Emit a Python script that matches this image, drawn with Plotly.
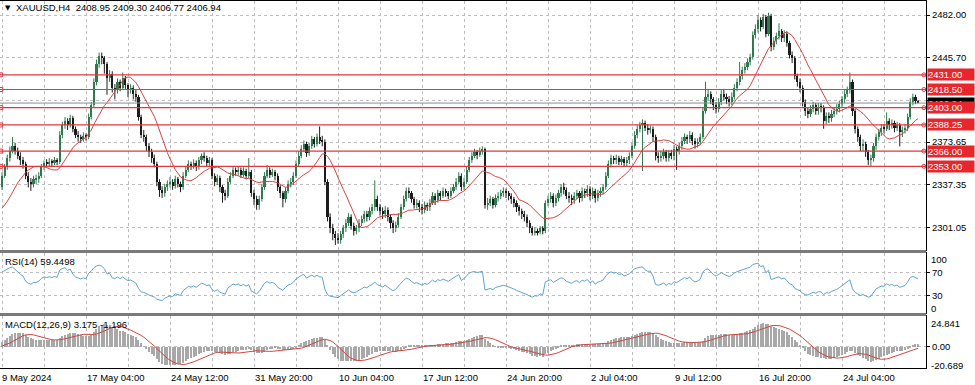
import pandas as pd
import plotly.graph_objects as go

# ---------------- data (H4 bars) ----------------
warmup_closes = [2335, 2332, 2340, 2345, 2338, 2337, 2340, 2345, 2342, 2338, 2336, 2334,
                 2330, 2325, 2320, 2310, 2300, 2286, 2288, 2290, 2295, 2300, 2310, 2320,
                 2325, 2318, 2310, 2305, 2302, 2304, 2305, 2300, 2298, 2310, 2300, 2302,
                 2305, 2312, 2318, 2320, 2322, 2324, 2322, 2318, 2315, 2318, 2314, 2315,
                 2314, 2310, 2308, 2312, 2315, 2310, 2308, 2312, 2318, 2325, 2335]

opens = [2335, 2345, 2352, 2360, 2366, 2370, 2366, 2362, 2358, 2355,
         2345, 2340, 2338, 2342, 2342, 2345, 2352, 2356, 2355, 2357,
         2356, 2358, 2357, 2380, 2388, 2392, 2388, 2394, 2385, 2380,
         2378, 2376, 2379, 2378, 2395, 2405, 2425, 2440, 2447, 2445,
         2440, 2428, 2432, 2420, 2418, 2425, 2420, 2428, 2422, 2418,
         2420, 2415, 2412, 2395, 2380, 2378, 2370, 2365, 2360, 2355,
         2340, 2333, 2330, 2335, 2338, 2340, 2336, 2342, 2338, 2335,
         2345, 2350, 2355, 2353, 2356, 2352, 2358, 2362, 2360, 2356,
         2358, 2345, 2340, 2343, 2335, 2330, 2328, 2340, 2345, 2350,
         2348, 2350, 2346, 2349, 2345, 2348, 2330, 2325, 2320, 2325,
         2335, 2345, 2350, 2346, 2348, 2345, 2335, 2330, 2325, 2332,
         2338, 2340, 2345, 2355, 2362, 2368, 2372, 2364, 2370, 2376,
         2372, 2378, 2375, 2374, 2340, 2310, 2300, 2295, 2292, 2290,
         2295, 2300, 2305, 2310, 2302, 2298, 2300, 2305, 2308, 2312,
         2310, 2315, 2318, 2325, 2318, 2315, 2312, 2316, 2310, 2305,
         2300, 2303, 2310, 2318, 2325, 2332, 2330, 2325, 2320, 2322,
         2318, 2316, 2320, 2318, 2322, 2328, 2324, 2330, 2328, 2332,
         2330, 2328, 2332, 2335, 2340, 2345, 2335, 2340, 2350, 2358,
         2362, 2365, 2363, 2366, 2368, 2320, 2322, 2325, 2320, 2326,
         2328, 2330, 2332, 2330, 2328, 2325, 2322, 2318, 2315, 2312,
         2310, 2305, 2300, 2296, 2298, 2297, 2300, 2298, 2322, 2325,
         2328, 2322, 2326, 2330, 2335, 2333, 2328, 2326, 2324, 2328,
         2330, 2326, 2332, 2330, 2334, 2328, 2332, 2326, 2330, 2332,
         2335, 2345, 2355, 2360, 2358, 2360, 2357, 2359, 2356, 2358,
         2362, 2370, 2380, 2385, 2388, 2390, 2386, 2384, 2385, 2378,
         2362, 2360, 2362, 2365, 2360, 2364, 2362, 2368, 2366, 2370,
         2375, 2378, 2376, 2380, 2375, 2372, 2374, 2378, 2400, 2412,
         2415, 2410, 2405, 2402, 2408, 2415, 2412, 2410, 2408, 2412,
         2420, 2425, 2430, 2435, 2438, 2442, 2446, 2465, 2470, 2478,
         2472, 2480, 2466, 2481, 2455, 2460, 2464, 2468, 2462, 2466,
         2458, 2448, 2445, 2430, 2425, 2420, 2408, 2400, 2398, 2402,
         2405, 2400, 2404, 2403, 2392, 2396, 2394, 2398, 2400, 2402,
         2406, 2410, 2415, 2418, 2425, 2400, 2385, 2378, 2370, 2372,
         2365, 2358, 2360, 2370, 2378, 2382, 2386, 2385, 2392, 2388,
         2390, 2386, 2388, 2382, 2384, 2386, 2395, 2408, 2412, 2408.95]

highs = [2348, 2355, 2363, 2370, 2378, 2373, 2369, 2365, 2361, 2357,
         2348, 2343, 2345, 2346, 2348, 2355, 2358, 2359, 2360, 2359,
         2361, 2360, 2383, 2391, 2395, 2394, 2397, 2396, 2387, 2383,
         2380, 2382, 2381, 2398, 2408, 2428, 2444, 2450, 2450, 2447,
         2442, 2435, 2434, 2423, 2428, 2427, 2433, 2430, 2424, 2423,
         2422, 2418, 2414, 2397, 2384, 2380, 2373, 2368, 2363, 2357,
         2342, 2336, 2338, 2341, 2344, 2342, 2345, 2344, 2340, 2348,
         2353, 2358, 2357, 2359, 2358, 2361, 2364, 2365, 2362, 2361,
         2360, 2347, 2346, 2345, 2337, 2333, 2343, 2348, 2353, 2352,
         2353, 2352, 2352, 2351, 2360, 2350, 2333, 2328, 2328, 2338,
         2348, 2354, 2352, 2351, 2350, 2347, 2337, 2332, 2335, 2341,
         2343, 2348, 2358, 2366, 2371, 2375, 2374, 2373, 2379, 2378,
         2381, 2387, 2379, 2376, 2342, 2313, 2304, 2298, 2296, 2298,
         2303, 2308, 2313, 2312, 2305, 2303, 2308, 2311, 2315, 2315,
         2318, 2321, 2341, 2328, 2321, 2318, 2319, 2318, 2312, 2307,
         2306, 2313, 2321, 2328, 2335, 2335, 2332, 2327, 2325, 2324,
         2321, 2323, 2322, 2325, 2331, 2330, 2333, 2332, 2335, 2334,
         2332, 2335, 2338, 2343, 2348, 2347, 2343, 2353, 2361, 2365,
         2368, 2367, 2369, 2370, 2369, 2326, 2328, 2327, 2329, 2331,
         2333, 2335, 2334, 2332, 2330, 2327, 2324, 2320, 2317, 2315,
         2312, 2307, 2302, 2301, 2300, 2302, 2302, 2324, 2328, 2331,
         2330, 2329, 2333, 2338, 2339, 2335, 2331, 2329, 2331, 2333,
         2332, 2335, 2334, 2337, 2336, 2335, 2334, 2333, 2335, 2338,
         2348, 2358, 2363, 2362, 2363, 2362, 2362, 2361, 2361, 2365,
         2373, 2383, 2388, 2391, 2393, 2392, 2389, 2388, 2387, 2380,
         2365, 2366, 2368, 2367, 2367, 2367, 2371, 2370, 2373, 2378,
         2381, 2380, 2383, 2382, 2377, 2377, 2381, 2403, 2425, 2419,
         2417, 2412, 2408, 2411, 2418, 2419, 2415, 2413, 2416, 2423,
         2428, 2442, 2438, 2441, 2445, 2449, 2468, 2474, 2482, 2480,
         2483, 2482, 2484, 2483, 2463, 2467, 2475, 2470, 2469, 2468,
         2460, 2451, 2447, 2432, 2428, 2422, 2410, 2403, 2405, 2408,
         2407, 2407, 2407, 2405, 2399, 2399, 2401, 2403, 2406, 2409,
         2413, 2418, 2421, 2433, 2427, 2402, 2387, 2380, 2376, 2374,
         2367, 2363, 2373, 2381, 2385, 2389, 2389, 2399, 2394, 2393,
         2392, 2391, 2390, 2387, 2389, 2398, 2411, 2415, 2414, 2409.30]

lows = [2333, 2343, 2350, 2357, 2364, 2363, 2359, 2354, 2351, 2342,
        2335, 2332, 2335, 2338, 2339, 2343, 2350, 2352, 2353, 2353,
        2354, 2354, 2355, 2377, 2385, 2384, 2386, 2382, 2377, 2374,
        2373, 2374, 2375, 2376, 2393, 2403, 2422, 2437, 2440, 2432,
        2414, 2425, 2416, 2410, 2415, 2417, 2418, 2419, 2412, 2415,
        2410, 2408, 2392, 2377, 2374, 2366, 2361, 2356, 2352, 2336,
        2327, 2326, 2327, 2332, 2335, 2333, 2334, 2335, 2331, 2333,
        2343, 2348, 2350, 2351, 2349, 2350, 2355, 2357, 2353, 2353,
        2342, 2336, 2337, 2331, 2322, 2324, 2326, 2338, 2343, 2345,
        2345, 2343, 2344, 2342, 2343, 2327, 2320, 2316, 2316, 2323,
        2333, 2343, 2343, 2344, 2341, 2332, 2326, 2318, 2322, 2330,
        2335, 2337, 2343, 2353, 2360, 2365, 2361, 2362, 2368, 2369,
        2370, 2372, 2370, 2337, 2306, 2296, 2290, 2286, 2287, 2287,
        2292, 2297, 2302, 2299, 2294, 2295, 2297, 2302, 2305, 2306,
        2307, 2312, 2315, 2315, 2311, 2308, 2309, 2306, 2300, 2296,
        2297, 2301, 2308, 2316, 2323, 2326, 2322, 2317, 2317, 2314,
        2312, 2313, 2315, 2315, 2320, 2320, 2322, 2324, 2326, 2327,
        2325, 2326, 2330, 2333, 2338, 2332, 2333, 2338, 2348, 2356,
        2360, 2359, 2361, 2363, 2317, 2316, 2319, 2317, 2318, 2323,
        2325, 2327, 2326, 2324, 2321, 2318, 2314, 2311, 2308, 2306,
        2301, 2296, 2294, 2294, 2294, 2295, 2295, 2296, 2319, 2322,
        2318, 2319, 2323, 2327, 2329, 2325, 2322, 2320, 2321, 2325,
        2322, 2323, 2326, 2327, 2324, 2325, 2322, 2323, 2327, 2329,
        2333, 2343, 2352, 2355, 2355, 2354, 2354, 2353, 2353, 2355,
        2360, 2368, 2377, 2382, 2349, 2383, 2380, 2381, 2374, 2358,
        2356, 2357, 2359, 2357, 2357, 2359, 2358, 2350, 2363, 2367,
        2372, 2372, 2373, 2371, 2368, 2369, 2371, 2376, 2398, 2409,
        2406, 2401, 2398, 2399, 2405, 2409, 2406, 2404, 2405, 2410,
        2417, 2422, 2427, 2432, 2435, 2439, 2444, 2462, 2467, 2468,
        2470, 2463, 2464, 2451, 2452, 2457, 2461, 2459, 2459, 2455,
        2445, 2441, 2427, 2421, 2416, 2404, 2396, 2394, 2395, 2399,
        2397, 2397, 2399, 2385, 2389, 2390, 2391, 2395, 2397, 2399,
        2403, 2407, 2412, 2415, 2396, 2381, 2374, 2366, 2366, 2361,
        2354, 2353, 2357, 2367, 2375, 2379, 2381, 2383, 2384, 2385,
        2382, 2383, 2370, 2378, 2381, 2383, 2393, 2405, 2406, 2406.77]

closes = [2345, 2352, 2360, 2366, 2370, 2366, 2362, 2358, 2355, 2345,
          2340, 2338, 2342, 2342, 2345, 2352, 2356, 2355, 2357, 2356,
          2358, 2357, 2380, 2388, 2392, 2388, 2394, 2385, 2380, 2378,
          2376, 2379, 2378, 2395, 2405, 2425, 2440, 2447, 2445, 2440,
          2428, 2432, 2420, 2418, 2425, 2420, 2428, 2422, 2418, 2420,
          2415, 2412, 2395, 2380, 2378, 2370, 2365, 2360, 2355, 2340,
          2333, 2330, 2335, 2338, 2340, 2336, 2342, 2338, 2335, 2345,
          2350, 2355, 2353, 2356, 2352, 2358, 2362, 2360, 2356, 2358,
          2345, 2340, 2343, 2335, 2330, 2328, 2340, 2345, 2350, 2348,
          2350, 2346, 2349, 2345, 2348, 2330, 2325, 2320, 2325, 2335,
          2345, 2350, 2346, 2348, 2345, 2335, 2330, 2325, 2332, 2338,
          2340, 2345, 2355, 2362, 2368, 2372, 2364, 2370, 2376, 2372,
          2378, 2375, 2374, 2340, 2310, 2300, 2295, 2292, 2290, 2295,
          2300, 2305, 2310, 2302, 2298, 2300, 2305, 2308, 2312, 2310,
          2315, 2318, 2325, 2318, 2315, 2312, 2316, 2310, 2305, 2300,
          2303, 2310, 2318, 2325, 2332, 2330, 2325, 2320, 2322, 2318,
          2316, 2320, 2318, 2322, 2328, 2324, 2330, 2328, 2332, 2330,
          2328, 2332, 2335, 2340, 2345, 2335, 2340, 2350, 2358, 2362,
          2365, 2363, 2366, 2368, 2320, 2322, 2325, 2320, 2326, 2328,
          2330, 2332, 2330, 2328, 2325, 2322, 2318, 2315, 2312, 2310,
          2305, 2300, 2296, 2298, 2297, 2300, 2298, 2322, 2325, 2328,
          2322, 2326, 2330, 2335, 2333, 2328, 2326, 2324, 2328, 2330,
          2326, 2332, 2330, 2334, 2328, 2332, 2326, 2330, 2332, 2335,
          2345, 2355, 2360, 2358, 2360, 2357, 2359, 2356, 2358, 2362,
          2370, 2380, 2385, 2388, 2390, 2386, 2384, 2385, 2378, 2362,
          2360, 2362, 2365, 2360, 2364, 2362, 2368, 2366, 2370, 2375,
          2378, 2376, 2380, 2375, 2372, 2374, 2378, 2400, 2412, 2415,
          2410, 2405, 2402, 2408, 2415, 2412, 2410, 2408, 2412, 2420,
          2425, 2430, 2435, 2438, 2442, 2446, 2465, 2470, 2478, 2472,
          2480, 2466, 2481, 2455, 2460, 2464, 2468, 2462, 2466, 2458,
          2448, 2445, 2430, 2425, 2420, 2408, 2400, 2398, 2402, 2405,
          2400, 2404, 2403, 2392, 2396, 2394, 2398, 2400, 2402, 2406,
          2410, 2415, 2418, 2425, 2400, 2385, 2378, 2370, 2372, 2365,
          2358, 2360, 2370, 2378, 2382, 2386, 2385, 2392, 2388, 2390,
          2386, 2388, 2382, 2384, 2386, 2395, 2408, 2412, 2408.95, 2406.94]

time_labels = ["9 May 2024", "17 May 04:00", "24 May 12:00", "31 May 20:00", "10 Jun 04:00",
               "17 Jun 12:00", "24 Jun 20:00", "2 Jul 04:00", "9 Jul 12:00", "16 Jul 20:00",
               "24 Jul 04:00"]
time_label_bars = [0, 32, 64, 96, 128, 160, 192, 224, 256, 288, 320]
grid_bars = [16 * k for k in range(23)]

price_ticks = [2301.05, 2337.35, 2373.65, 2409.40, 2445.70, 2482.00]
price_tick_text = ["2301.05", "2337.35", "2373.65", "", "2445.70", "2482.00"]
level_prices = [2431.00, 2418.50, 2403.00, 2388.25, 2366.00, 2353.00]
last_price = 2406.94

title_text = "XAUUSD,H4  2408.95 2409.30 2406.77 2406.94"
rsi_text = "RSI(14) 59.4498"
macd_text = "MACD(12,26,9) 3.175 -1.196"
rsi_ticks = [30, 70]
rsi_edge_values = [100, 0]
rsi_edge_labels = ["100", "0"]
macd_edge_values = [24.841, -20.689]
macd_edge_labels = ["24.841", "-20.689"]

# ---------------- indicators ----------------
n_warm = len(warmup_closes)
allc = pd.Series(warmup_closes + closes, dtype=float)
ma = allc.rolling(14).mean().iloc[n_warm:].tolist()
d = allc.diff()
ag = d.clip(lower=0).ewm(alpha=1 / 14, adjust=False).mean()
al = (-d.clip(upper=0)).ewm(alpha=1 / 14, adjust=False).mean()
rsi = (100 - 100 / (1 + ag / al)).iloc[n_warm:].tolist()
macd_main = allc.ewm(span=12, adjust=False).mean() - allc.ewm(span=26, adjust=False).mean()
macd_sig = macd_main.rolling(9).mean()
macd_main = macd_main.iloc[n_warm:].tolist()
macd_sig = macd_sig.iloc[n_warm:].tolist()

idx = list(range(len(closes)))

# ---------------- geometry helpers (pixels -> paper) ----------------
H, W = 385, 975
MT, MB = 1, 17
PH = H - MT - MB


def pf(py):
    return (H - MB - py) / PH


FONT = "Liberation Sans, Arial, sans-serif"
FS = 9.5
BULL = "#2f7a4f"
BEAR = "#1c1c1c"
RED = "#e0393e"
GRID = "#bdbdbd"

fig = go.Figure()

# candles
for col, bull in ((BULL, True), (BEAR, False)):
    wx, wy, bx, bh, bb = [], [], [], [], []
    for i in idx:
        o, c = opens[i], closes[i]
        if (c >= o) != bull:
            continue
        wx += [i, i, None]
        wy += [lows[i], highs[i], None]
        bx.append(i)
        bh.append(max(abs(c - o), 0.4))
        bb.append(min(o, c))
    fig.add_trace(go.Scatter(x=wx, y=wy, mode="lines", line=dict(color=col, width=1),
                             hoverinfo="skip", xaxis="x", yaxis="y"))
    fig.add_trace(go.Bar(x=bx, y=bh, base=bb, width=0.78, marker=dict(color=col, line=dict(width=0)),
                         xaxis="x", yaxis="y"))

fig.add_trace(go.Scatter(x=idx, y=ma, mode="lines", line=dict(color="#d2453f", width=1),
                         xaxis="x", yaxis="y"))

# RSI
fig.add_trace(go.Scatter(x=idx, y=rsi, mode="lines", line=dict(color="#5fa3cf", width=1),
                         xaxis="x2", yaxis="y2"))
# MACD
fig.add_trace(go.Bar(x=idx, y=macd_main, width=0.42, marker=dict(color="#a8a8a8", line=dict(width=0)),
                     xaxis="x3", yaxis="y3"))
fig.add_trace(go.Scatter(x=idx, y=macd_sig, mode="lines", line=dict(color="#d2453f", width=1),
                         xaxis="x3", yaxis="y3"))

shapes = []
annotations = []

# level lines
for p in level_prices:
    shapes.append(dict(type="line", xref="paper", x0=0, x1=1, yref="y", y0=p, y1=p,
                       line=dict(color=RED, width=1.2), layer="above"))
shapes.append(dict(type="line", xref="paper", x0=0, x1=1, yref="y", y0=last_price, y1=last_price,
                   line=dict(color="#8c8c8c", width=1), layer="above"))

# level handles
fig.add_trace(go.Scatter(x=[-0.5] * len(level_prices), y=level_prices, mode="markers",
                         marker=dict(symbol="square-open", size=4, color=RED, line=dict(width=1)),
                         cliponaxis=False, xaxis="x", yaxis="y"))
fig.add_trace(go.Scatter(x=[351.2] * len(level_prices), y=level_prices, mode="markers",
                         marker=dict(symbol="circle-open", size=4, color=RED, line=dict(width=1)),
                         cliponaxis=False, xaxis="x", yaxis="y"))

# price labels on the right
annotations.append(dict(xref="paper", x=1, xanchor="left", xshift=1, yref="y", y=last_price,
                        text=f"{last_price:.2f}", showarrow=False, bgcolor="#000000",
                        font=dict(color="white", size=FS, family=FONT), width=46, height=11,
                        align="left", borderpad=0))
for p in level_prices:
    annotations.append(dict(xref="paper", x=1, xanchor="left", xshift=1, yref="y", y=p,
                            text=f"{p:.2f}", showarrow=False, bgcolor="#e8262b",
                            font=dict(color="white", size=FS, family=FONT), width=46, height=11,
                            align="left", borderpad=0))

# separators between panels
for top, bot in ((250, 253), (313, 316)):
    shapes.append(dict(type="rect", xref="paper", x0=0, x1=1, yref="paper", y0=pf(bot), y1=pf(top),
                       fillcolor="#7a7a7a", line=dict(width=0), layer="above"))

# texts
annotations.append(dict(xref="paper", x=0, xanchor="left", xshift=3, yref="paper", y=pf(8),
                        yanchor="middle", text="\u25BC", showarrow=False,
                        font=dict(size=7, color="black", family="DejaVu Sans")))
annotations.append(dict(xref="paper", x=0, xanchor="left", xshift=14, yref="paper", y=pf(8),
                        yanchor="middle", text=title_text, showarrow=False,
                        font=dict(size=FS, color="black", family=FONT)))
annotations.append(dict(xref="paper", x=0, xanchor="left", xshift=3, yref="paper", y=pf(261),
                        yanchor="middle", text=rsi_text, showarrow=False,
                        font=dict(size=FS, color="black", family=FONT)))
annotations.append(dict(xref="paper", x=0, xanchor="left", xshift=3, yref="paper", y=pf(324),
                        yanchor="middle", text=macd_text, showarrow=False,
                        font=dict(size=FS, color="black", family=FONT)))
for txt, v, sh in zip(rsi_edge_labels, rsi_edge_values, (-4, 4)):
    annotations.append(dict(xref="paper", x=1, xanchor="left", xshift=3, yref="y2", y=v,
                            yshift=sh, yanchor="middle", text=txt, showarrow=False,
                            font=dict(size=FS, color="black", family=FONT)))
for txt, v, sh in zip(macd_edge_labels, macd_edge_values, (-2, 2)):
    annotations.append(dict(xref="paper", x=1, xanchor="left", xshift=3, yref="y3", y=v,
                            yshift=sh, yanchor="middle", text=txt, showarrow=False,
                            font=dict(size=FS, color="black", family=FONT)))
for txt, b in zip(time_labels, time_label_bars):
    annotations.append(dict(xref="x3", x=b, xanchor="left", xshift=-2 if b == 0 else -1,
                            yref="paper", y=pf(377), yanchor="middle", text=txt, showarrow=False,
                            font=dict(size=FS, color="black", family=FONT)))

xr = [-0.76, 352.0]
xcommon = dict(range=xr, tickvals=grid_bars, showticklabels=False, showgrid=True, gridcolor=GRID,
               griddash="dot", gridwidth=1, zeroline=False, showline=True, linecolor="#000",
               linewidth=1, mirror=True, ticks="")
ycommon = dict(side="right", showgrid=True, gridcolor=GRID, griddash="dot", zeroline=False,
               showline=True, linecolor="#000", linewidth=1, mirror=True, ticks="outside",
               ticklen=3, tickcolor="#000", tickfont=dict(size=FS, color="black", family=FONT))

fig.update_layout(
    width=W, height=H, margin=dict(l=0, r=49, t=MT, b=MB),
    paper_bgcolor="white", plot_bgcolor="white", showlegend=False, bargap=0,
    xaxis=dict(xcommon, anchor="y", domain=[0, 1]),
    xaxis2=dict(xcommon, anchor="y2", matches="x", domain=[0, 1]),
    xaxis3=dict(xcommon, anchor="y3", matches="x", domain=[0, 1]),
    yaxis=dict(ycommon, domain=[pf(250), 1], range=[2281.66, 2493.94], tickvals=price_ticks,
               ticktext=price_tick_text),
    yaxis2=dict(ycommon, domain=[pf(313), pf(253)], range=[-0.2, 104.3], tickvals=rsi_ticks,
                ticktext=[str(v) for v in rsi_ticks]),
    yaxis3=dict(ycommon, domain=[0, pf(316)], range=[-21, 30], tickvals=[0], ticktext=["0.00"]),
    shapes=shapes, annotations=annotations,
)

fig.write_html("out.html", config={"displayModeBar": False},
               post_script="document.body.style.margin='0';document.body.style.overflow='hidden';")
